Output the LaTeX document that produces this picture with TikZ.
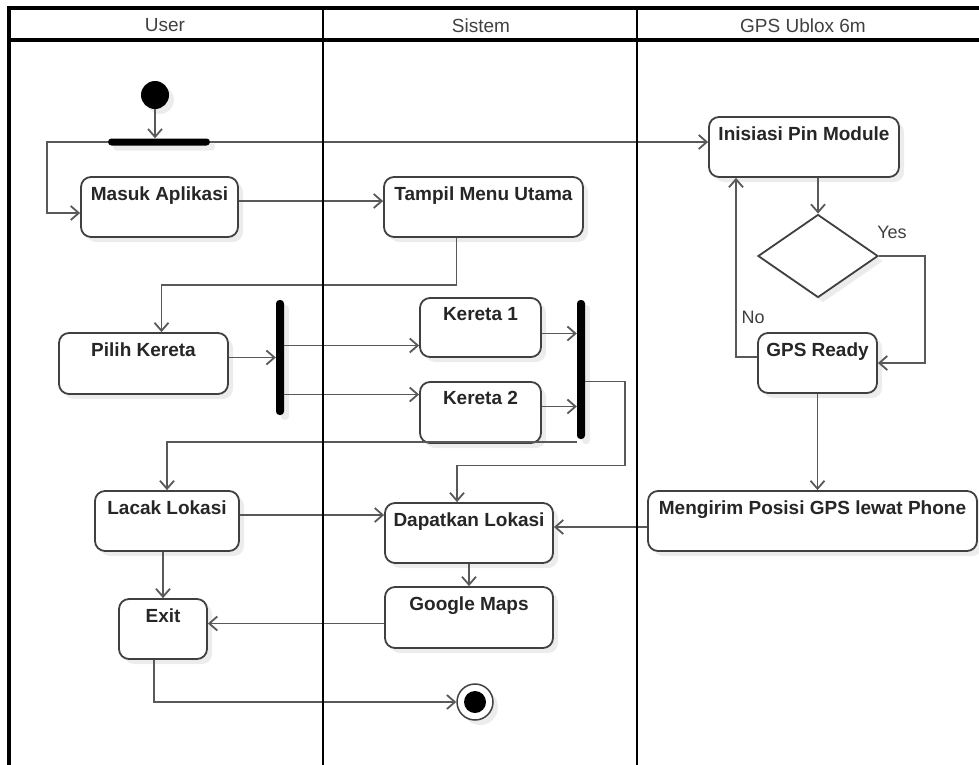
\documentclass[tikz,border=0pt]{standalone}
\usepackage{fontspec}
\setmainfont{Liberation Sans}
\usetikzlibrary{arrows.meta,shapes.geometric,shadows}

\begin{document}
\begin{tikzpicture}[x=1pt,y=-1pt,>={Straight Barb[length=8pt,width=14pt]},
  softshadow/.style={drop shadow={shadow xshift=5pt,shadow yshift=-5pt,opacity=0.15}},
  act/.style={rectangle,rounded corners=10pt,draw=black!75,line width=1.8pt,fill=white,softshadow,inner sep=0pt,minimum height=60pt},
  actname/.style={anchor=north,yshift=-7pt,font=\bfseries\fontsize{19}{22}\selectfont,text=black!85},
  bar/.style={rectangle,fill=black,rounded corners=3.5pt,inner sep=0pt,softshadow},
  startdot/.style={circle,fill=black,inner sep=0pt,minimum size=28pt,softshadow},
  enddot/.style={circle,draw=black!75,line width=1.5pt,fill=white,inner sep=0pt,minimum size=36pt,softshadow,
    path picture={\fill[black] (path picture bounding box.center) circle (11pt);}},
  decision/.style={diamond,draw=black!75,line width=1.8pt,fill=white,inner sep=0pt,aspect=1.45,minimum width=120pt,minimum height=83pt,softshadow},
  lanehead/.style={font=\fontsize{19}{22}\selectfont,text=black!75},
  guard/.style={font=\fontsize{18}{21}\selectfont,text=black!75},
  flow/.style={->,draw=black!65,line width=1.8pt},
  border/.style={black,line width=3.5pt},
  lane/.style={black,line width=2.5pt}]
  \useasboundingbox (0,0) rectangle (979,764);
  \node[lanehead] (huser) at (165,25.5) {User};
  \node[lanehead] (hsistem) at (481,25.5) {Sistem};
  \node[lanehead] (hgps) at (803,25.5) {GPS Ublox 6m};
  \node[startdot] (start) at (155,95) {};
  \node[bar,minimum width=102pt,minimum height=7pt] (fork1) at (159,142) {};
  \node[act,minimum width=157pt,label={[actname]north:Masuk Aplikasi}] (masuk) at (159.5,207) {};
  \node[act,minimum width=199pt,label={[actname]north:Tampil Menu Utama}] (tampil) at (483.5,207) {};
  \node[act,minimum width=169pt,minimum height=61pt,label={[actname]north:Pilih Kereta}] (pilih) at (143.5,363.5) {};
  \node[bar,minimum width=8pt,minimum height=115pt] (fork2) at (280,357.5) {};
  \node[act,minimum width=121pt,minimum height=59pt,label={[actname]north:Kereta 1}] (kereta1) at (480.5,327.5) {};
  \node[act,minimum width=121pt,minimum height=61pt,label={[actname]north:Kereta 2}] (kereta2) at (480.5,412.5) {};
  \node[bar,minimum width=8pt,minimum height=139pt] (join) at (581,369.5) {};
  \node[act,minimum width=144pt,label={[actname]north:Lacak Lokasi}] (lacak) at (167,521) {};
  \node[act,minimum width=168pt,label={[actname]north:Dapatkan Lokasi}] (dapat) at (469,533) {};
  \node[act,minimum width=168pt,minimum height=61pt,label={[actname]north:Google Maps}] (google) at (469,617.5) {};
  \node[act,minimum width=88pt,label={[actname]north:Exit}] (exit) at (163,629) {};
  \node[enddot] (final) at (475,702) {};
  \node[act,minimum width=190pt,label={[actname]north:Inisiasi Pin Module}] (init) at (804,147) {};
  \node[decision] (cek) at (818,256) {};
  \node[act,minimum width=119pt,label={[actname]north:GPS Ready}] (ready) at (817.5,363) {};
  \node[act,minimum width=329pt,label={[actname]north:Mengirim Posisi GPS lewat Phone}] (kirim) at (812.5,521) {};
  \node[guard] (yes) at (892,232) {Yes};
  \node[guard] (no) at (753,317) {No};
  \draw[flow] (start) -- (start |- fork1.north);
  \draw[flow] (fork1.west) -- ++(-61,0) |- ([yshift=-6pt]masuk.west);
  \draw[flow] (fork1.east) -- (fork1.east -| init.west);
  \draw[flow] ([yshift=6pt]masuk.east) -- ([yshift=6pt]masuk.east -| tampil.west);
  \draw[flow] ([xshift=-27pt]tampil.south) -- ++(0,47) -| ([xshift=18pt]pilih.north);
  \draw[flow] ([yshift=6pt]pilih.east) -- ([yshift=6pt]pilih.east -| fork2.west);
  \draw[flow] ([yshift=-18pt]kereta1.west -| fork2.east) -- ([yshift=-18pt]kereta1.west);
  \draw[flow] ([yshift=18pt]kereta2.west -| fork2.east) -- ([yshift=18pt]kereta2.west);
  \draw[flow] ([yshift=-6pt]kereta1.east) -- ([yshift=-6pt]kereta1.east -| join.west);
  \draw[flow] ([yshift=6pt]kereta2.east) -- ([yshift=6pt]kereta2.east -| join.west);
  \draw[flow] ([xshift=-4pt,yshift=-3pt]join.south) -| (lacak.north);
  \draw[flow] ([yshift=-12pt]join.east) -- ++(40,0) -- ++(0,84) -| ([xshift=-12pt]dapat.north);
  \draw[flow] ([yshift=6pt]lacak.east) -- ([yshift=6pt]lacak.east -| dapat.west);
  \draw[flow] ([xshift=-4pt]lacak.south) -- (exit.north);
  \draw[flow] (dapat.south) -- (google.north);
  \draw[flow] ([yshift=-6pt]google.west) -- ([yshift=-6pt]google.west -| exit.east);
  \draw[flow] ([xshift=-9pt]exit.south) |- (final);
  \draw[flow] ([xshift=14pt]init.south) -- ([xshift=14pt]init.south |- cek.north);
  \draw[flow] (cek.east) -- ++(46,0) |- (ready.east);
  \draw[flow] ([yshift=6pt]ready.west) -| ([xshift=-68pt]init.south);
  \draw[flow] (ready.south) -- (ready.south |- kirim.north);
  \draw[flow] ([yshift=-6pt]kirim.west) -- ([yshift=-6pt]kirim.west -| dapat.east);
  \draw[border] (9,770) -- (9,8) -- (990,8);
  \draw[border] (9,40) -- (990,40);
  \draw[lane] (323,8) -- (323,770);
  \draw[lane] (637,8) -- (637,770);
\end{tikzpicture}
\end{document}
